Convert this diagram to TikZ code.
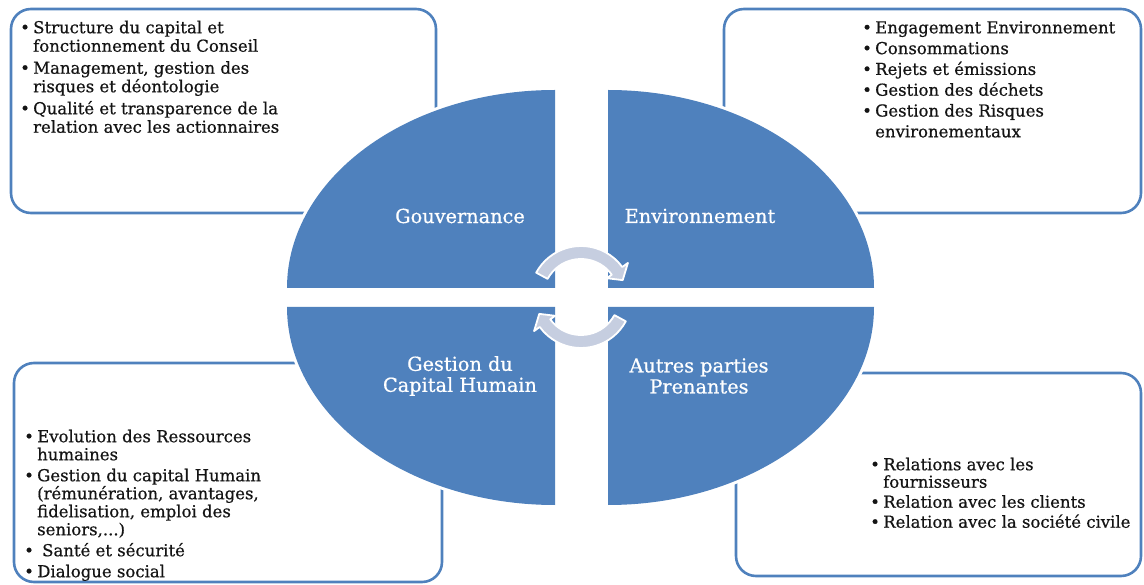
\documentclass[tikz,border=0pt]{standalone}
\usepackage{fontspec}
\setmainfont{DejaVu Serif}[RawFeature={embolden=0.6}]
\definecolor{accent}{RGB}{79,129,189}
\definecolor{arrowfill}{RGB}{198,206,224}
\definecolor{txtcol}{RGB}{20,20,20}
\newcommand\bul{\makebox[13pt][l]{•}}
\newcommand\ind{\hspace*{13pt}}
\begin{document}
\begin{tikzpicture}[x=1pt,y=-1pt,
  box/.style={draw=accent, line width=2.6pt, rounded corners=20pt},
  txt/.style={anchor=north west, align=left, inner sep=0pt, text=txtcol},
  lab/.style={text=white, align=center, inner sep=0pt, font=\fontsize{19.3}{21}\selectfont},
  halo/.style={draw=white, line width=6pt},
  quad/.style={fill=accent},
  arr/.style={fill=arrowfill, draw=white, line width=1.8pt, line join=round},
]
\useasboundingbox (0,0) rectangle (1144,585);
% boxes
\draw[box] (11,9) rectangle (436,213);
\draw[box] (724,9) rectangle (1141,213);
\draw[box] (14,363) rectangle (442,582);
\draw[box] (736,373) rectangle (1141,576);
% texts
\node[txt, font=\fontsize{16.5}{18.5}\selectfont] (tltext) at (20,20.5) {%
\bul Structure du capital et\\
\ind fonctionnement du Conseil\\[3.5pt]
\bul Management, gestion des\\
\ind risques et déontologie\\[3.5pt]
\bul Qualité et transparence de la\\
\ind relation avec les actionnaires};
\node[txt, font=\fontsize{16.5}{20.8}\selectfont] (trtext) at (862,21) {%
\bul Engagement Environnement\\
\bul Consommations\\
\bul Rejets et émissions\\
\bul Gestion des déchets\\
\bul Gestion des Risques\\
\ind environementaux};
\node[txt, font=\fontsize{16.5}{18}\selectfont] (bltext) at (24,429.5) {%
\bul Evolution des Ressources\\
\ind humaines\\[3pt]
\bul Gestion du capital Humain\\
\ind (rémunération, avantages,\\
\ind fidelisation, emploi des\\
\ind seniors,...)\\[3pt]
\bul\hspace{5pt}Santé et sécurité\\[3pt]
\bul Dialogue social};
\node[txt, font=\fontsize{16.5}{17.5}\selectfont] (brtext) at (870,457.5) {%
\bul Relations avec les\\
\ind fournisseurs\\[2.5pt]
\bul Relation avec les clients\\[2.5pt]
\bul Relation avec la société civile};
% quadrant halos
\path[halo] (555,288) -- (287,288) arc[start angle=180, end angle=270, x radius=268, y radius=198] -- cycle;
\path[halo] (608,288) -- (874,288) arc[start angle=0, end angle=-90, x radius=266, y radius=198] -- cycle;
\path[halo] (555,307) -- (287,307) arc[start angle=180, end angle=90, x radius=268, y radius=198] -- cycle;
\path[halo] (608,307) -- (874,307) arc[start angle=0, end angle=90, x radius=266, y radius=198] -- cycle;
% quadrants
\path[quad] (555,288) -- (287,288) arc[start angle=180, end angle=270, x radius=268, y radius=198] -- cycle;
\path[quad] (608,288) -- (874,288) arc[start angle=0, end angle=-90, x radius=266, y radius=198] -- cycle;
\path[quad] (555,307) -- (287,307) arc[start angle=180, end angle=90, x radius=268, y radius=198] -- cycle;
\path[quad] (608,307) -- (874,307) arc[start angle=0, end angle=90, x radius=266, y radius=198] -- cycle;
% labels
\node[lab] (gouv) at (460,216) {Gouvernance};
\node[lab] (env) at (700,216) {Environnement};
\node[lab] (gch) at (460,376) {Gestion du\\Capital Humain};
\node[lab] (app) at (699,376) {Autres parties\\Prenantes};
% circular arrows
\begin{scope}[shift={(581,297)}, yscale=-1]
\path[arr] (151.5:51) arc[start angle=151.5, end angle=36, radius=51] -- (36:58) -- (22:45) -- (36:32) -- (36:38) arc[start angle=36, end angle=151.5, radius=38] -- cycle;
\end{scope}
\begin{scope}[shift={(581,297)}, yscale=-1, rotate=180]
\path[arr] (151.5:51) arc[start angle=151.5, end angle=36, radius=51] -- (36:58) -- (22:45) -- (36:32) -- (36:38) arc[start angle=36, end angle=151.5, radius=38] -- cycle;
\end{scope}
\end{tikzpicture}
\end{document}
